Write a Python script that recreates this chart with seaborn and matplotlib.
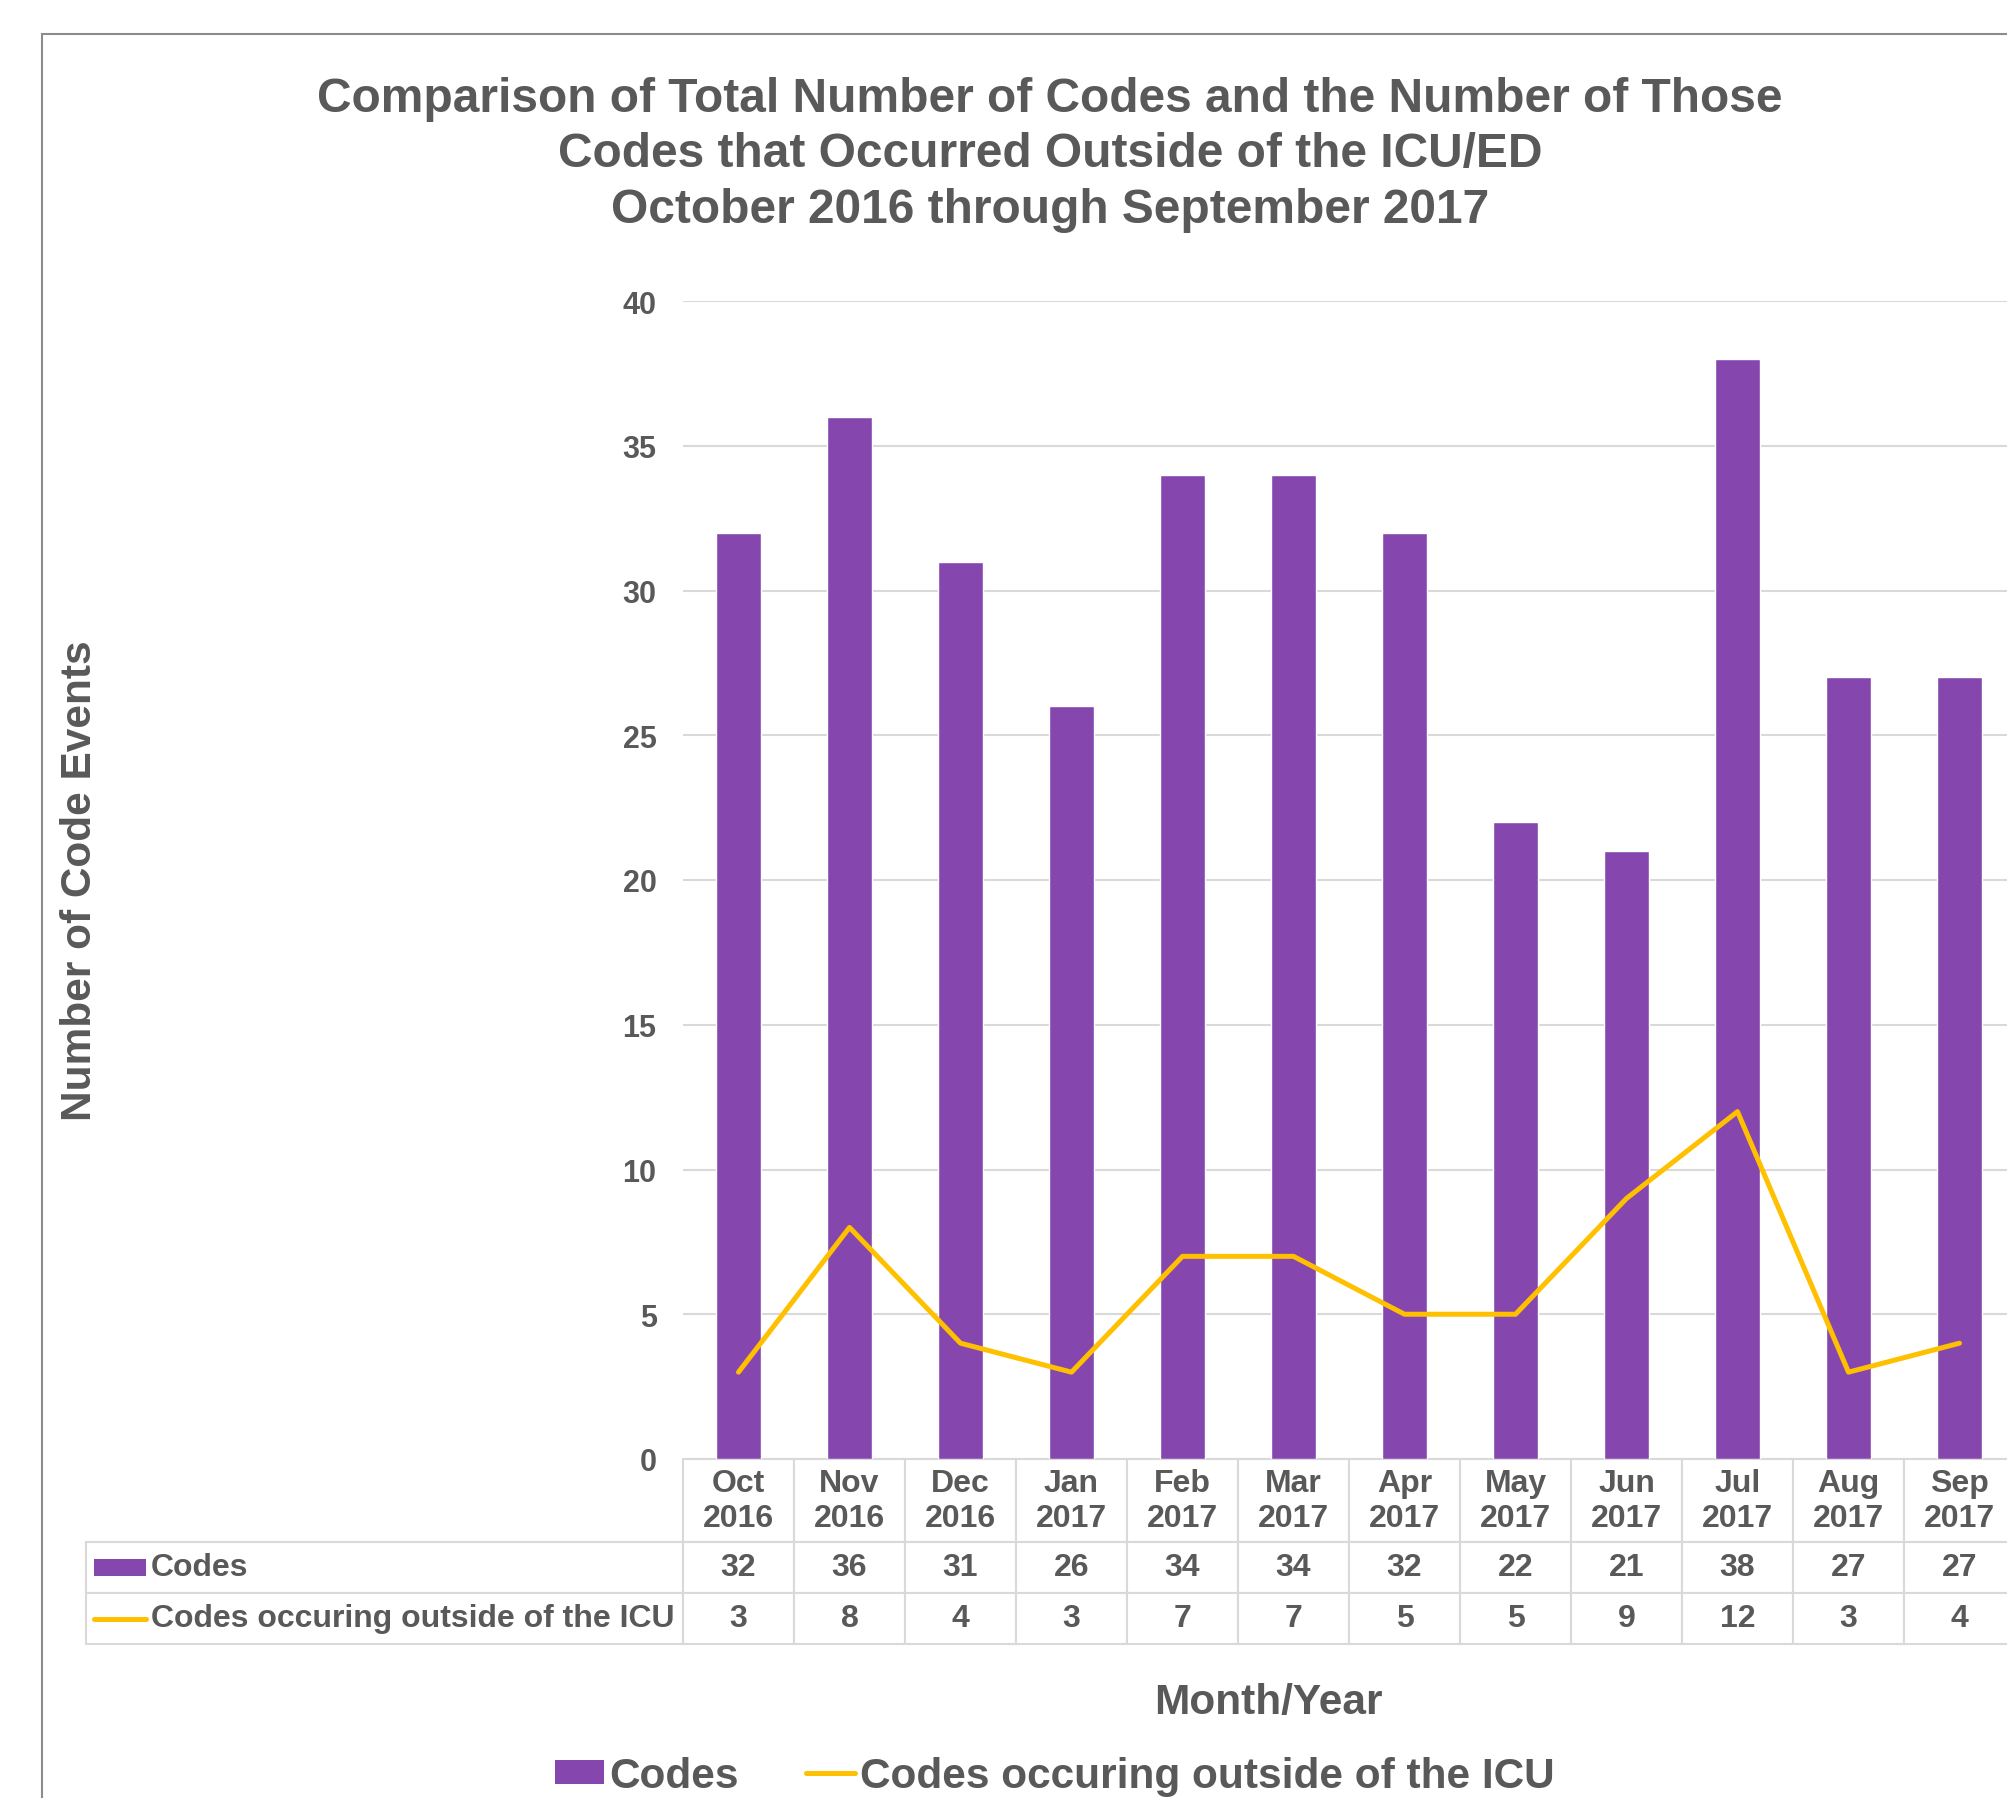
import numpy as np
import matplotlib
matplotlib.use("Agg")
import matplotlib.pyplot as plt
import seaborn as sns
from matplotlib.patches import Rectangle, Patch
from matplotlib.lines import Line2D

# data
months = ['Oct\n2016', 'Nov\n2016', 'Dec\n2016', 'Jan\n2017', 'Feb\n2017', 'Mar\n2017',
          'Apr\n2017', 'May\n2017', 'Jun\n2017', 'Jul\n2017', 'Aug\n2017', 'Sep\n2017']
codes = [32, 36, 31, 26, 34, 34, 32, 22, 21, 38, 27, 27]
outside_icu = [3, 8, 4, 3, 7, 7, 5, 5, 9, 12, 3, 4]
series_names = ['Codes', 'Codes occuring outside of the ICU']
y_ticks = [0, 5, 10, 15, 20, 25, 30, 35, 40]

title = ('Comparison of Total Number of Codes and the Number of Those\n'
         'Codes that Occurred Outside of the ICU/ED\n'
         'October 2016 through September 2017')

# style
sns.set_theme(style="white")
plt.rcParams['font.family'] = ['Liberation Sans', 'DejaVu Sans']
plt.rcParams['font.weight'] = 'bold'
TXT = '#595959'
PURPLE = '#8547AD'
GOLD = '#FFC000'
GRID = '#D9D9D9'

W, H = 2008, 1799
fig = plt.figure(figsize=(W / 100, H / 100), dpi=100)
fig.patch.set_facecolor('white')

def fx(px):
    return px / W

def fy(py):
    return 1 - py / H

# plot area in pixels
left, right, top, bottom = 683, 2015, 302, 1460
ax = fig.add_axes([fx(left), fy(bottom), (right - left) / W, (bottom - top) / H])

sns.barplot(x=list(range(len(months))), y=codes, color=PURPLE, width=0.4,
            saturation=1, ax=ax)
ax.plot(np.arange(len(months)), outside_icu, color=GOLD, lw=3.6,
        solid_joinstyle='round', solid_capstyle='round', zorder=3)

ax.set_xlim(-0.5, len(months) - 0.5)
ax.set_ylim(0, 40)
ax.set_yticks(y_ticks)
ax.set_xticks([])
ax.set_xlabel('')
ax.set_ylabel('')
ax.yaxis.grid(True, color=GRID, lw=1.5)
ax.set_axisbelow(True)
for s in ax.spines.values():
    s.set_visible(False)
ax.tick_params(axis='y', length=0, pad=19, labelsize=22, labelcolor=TXT)
for lab in ax.get_yticklabels():
    lab.set_fontweight('bold')

# data table under the plot (bbox covers the data grid; row labels hang left)
label_w = 597
tbl_bottom = 1645
head_h, row_h = 83, 51
axw, axh = right - left, bottom - top
tbl = ax.table(cellText=[[str(v) for v in codes], [str(v) for v in outside_icu]],
               rowLabels=series_names, colLabels=months,
               cellLoc='center', rowLoc='left',
               bbox=[0, -(tbl_bottom - bottom) / axh, 1, (tbl_bottom - bottom) / axh])
tbl._autoColumns = []  # keep the fixed row-label column width
tbl.auto_set_font_size(False)
tbl.set_fontsize(23)
for (r, c), cell in tbl.get_celld().items():
    cell.set_edgecolor(GRID)
    cell.set_linewidth(1.5)
    cell.get_text().set_color(TXT)
    cell.get_text().set_fontweight('bold')
    if c == -1:
        cell.set_width(label_w / axw)
        cell.PAD = 0.109
    else:
        cell.set_width(1 / len(months))
    cell.set_height((head_h if r == 0 else row_h) / axh)

# legend keys inside the table row labels
fig.add_artist(Rectangle((fx(94), fy(1577)), (146 - 94) / W, 17 / H,
                         facecolor=PURPLE, edgecolor='none'))
fig.add_artist(Line2D([fx(94), fx(146)], [fy(1620), fy(1620)], color=GOLD,
                      lw=3.6, solid_capstyle='round'))

# titles and axis labels
fig.text(fx(1050), fy(155), title, ha='center', va='center', fontsize=34.5,
         fontweight='bold', color=TXT, linespacing=1.3)
fig.text(fx(80), fy(881), 'Number of Code Events', rotation=90, ha='center',
         va='center', fontsize=30.5, fontweight='bold', color=TXT)
fig.text(fx(1268), fy(1703), 'Month/Year', ha='center', va='center',
         fontsize=30.5, fontweight='bold', color=TXT)

# bottom legend
handles = [Patch(facecolor=PURPLE, edgecolor='none'),
           Line2D([0], [0], color=GOLD, lw=3.6)]
fig.legend(handles, series_names, loc='center', bbox_to_anchor=(fx(1055), fy(1777)),
           ncol=2, frameon=False, labelcolor=TXT,
           handlelength=1.15, handleheight=0.5, handletextpad=0.12,
           columnspacing=1.6, prop={'weight': 'bold', 'size': 30.5})

# outer chart border (runs past the right and bottom edges)
fig.add_artist(Rectangle((fx(42), fy(2100)), (2200 - 42) / W, (2100 - 35) / H,
                         fill=False, edgecolor='#8C8C8C', lw=1.5))

fig.savefig('out.png', dpi=100, facecolor='white')
